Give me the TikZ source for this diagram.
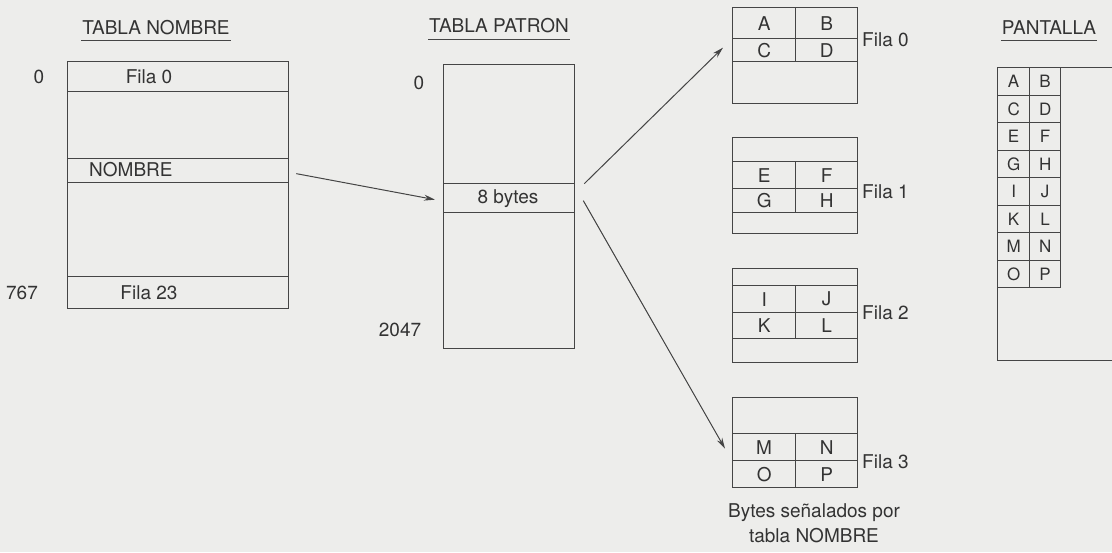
\documentclass[tikz,border=0pt]{standalone}
\usepackage{fontspec}
\setmainfont{TeX Gyre Heros}
\usetikzlibrary{arrows.meta}
\definecolor{bg}{HTML}{EDEDEB}
\definecolor{ink}{HTML}{454545}
\definecolor{txt}{HTML}{333333}
\begin{document}
\begin{tikzpicture}[x=1pt,y=-1pt,
  box/.style={draw=ink, line width=1.3pt, inner sep=0pt, anchor=north west},
  cell/.style={draw=ink, line width=1.3pt, inner sep=0pt, anchor=north west, text=txt, font=\fontsize{19}{20}\selectfont},
  scell/.style={draw=ink, line width=1.3pt, inner sep=0pt, anchor=north west, text=txt, font=\fontsize{17}{18}\selectfont, minimum width=32pt, minimum height=27.5pt},
  lbl/.style={text=txt, font=\fontsize{19}{22}\selectfont, inner sep=1pt},
  ttl/.style={text=txt, font=\fontsize{19}{22}\selectfont, inner sep=1pt},
  uline/.style={draw=ink, line width=0.9pt},
  arr/.style={draw=ink, line width=1pt, -{Stealth[length=11pt,width=6pt]}}]
\fill[bg] (0,0) rectangle (1112,552);
\useasboundingbox (0,0) rectangle (1112,552);

% ---- TABLA NOMBRE ----
\node[ttl] (t1) at (156,28) {TABLA NOMBRE};
\draw[uline] ([yshift=-4pt]t1.south west) -- ([yshift=-4pt]t1.south east);
\node[box, minimum width=221pt, minimum height=247pt] (nom) at (67,61) {};
\node[box, minimum width=221pt, minimum height=30pt] (nom0) at (67,61) {};
\node[lbl] at (149,77) {Fila 0};
\node[box, minimum width=221pt, minimum height=24pt] (nomrow) at (67,158) {};
\node[lbl, anchor=west] at (88,170) {NOMBRE};
\node[box, minimum width=221pt, minimum height=32pt] (nom23) at (67,276) {};
\node[lbl] at (149,293) {Fila 23};
\node[lbl] at (39,77) {0};
\node[lbl] at (22,293) {767};

% ---- TABLA PATRON ----
\node[ttl] (t2) at (499,26) {TABLA PATRON};
\draw[uline] ([yshift=-5pt]t2.south west) -- ([yshift=-5pt]t2.south east);
\node[box, minimum width=131pt, minimum height=284pt] (pat) at (443,64) {};
\node[box, minimum width=131pt, minimum height=29pt] (byte) at (443,183) {};
\node[lbl] at (508,199) {8 bytes};
\node[lbl] at (419,83) {0};
\node[lbl] at (400,330) {2047};

% ---- pattern boxes ----
\node[box, minimum width=125pt, minimum height=96pt] (p0) at (732,7) {};
\node[cell, minimum width=63pt, minimum height=31pt] (A) at (732,7) {A};
\node[cell, minimum width=62pt, minimum height=31pt] (B) at (795,7) {B};
\node[cell, minimum width=63pt, minimum height=23pt] (C) at (732,38) {C};
\node[cell, minimum width=62pt, minimum height=23pt] (D) at (795,38) {D};
\node[lbl, anchor=west] at (861,40) {Fila 0};

\node[box, minimum width=125pt, minimum height=96pt] (p1) at (732,137) {};
\node[cell, minimum width=63pt, minimum height=27pt] (E) at (732,161) {E};
\node[cell, minimum width=62pt, minimum height=27pt] (F) at (795,161) {F};
\node[cell, minimum width=63pt, minimum height=24pt] (G) at (732,188) {G};
\node[cell, minimum width=62pt, minimum height=24pt] (H) at (795,188) {H};
\node[lbl, anchor=west] at (861,192) {Fila 1};

\node[box, minimum width=125pt, minimum height=94pt] (p2) at (732,268) {};
\node[cell, minimum width=63pt, minimum height=27pt] (I) at (732,285) {I};
\node[cell, minimum width=62pt, minimum height=27pt] (J) at (795,285) {J};
\node[cell, minimum width=63pt, minimum height=26pt] (K) at (732,312) {K};
\node[cell, minimum width=62pt, minimum height=26pt] (L) at (795,312) {L};
\node[lbl, anchor=west] at (861,313) {Fila 2};

\node[box, minimum width=125pt, minimum height=90pt] (p3) at (732,397) {};
\node[cell, minimum width=63pt, minimum height=27pt] (M) at (732,433) {M};
\node[cell, minimum width=62pt, minimum height=27pt] (N) at (795,433) {N};
\node[cell, minimum width=63pt, minimum height=27pt] (O) at (732,460) {O};
\node[cell, minimum width=62pt, minimum height=27pt] (P) at (795,460) {P};
\node[lbl, anchor=west] at (861,462) {Fila 3};

\node[lbl, align=center, font=\fontsize{19}{25}\selectfont] (note) at (814,523) {Bytes señalados por\\tabla NOMBRE};

% ---- PANTALLA ----
\node[ttl] (t3) at (1049,28) {PANTALLA};
\draw[uline] ([yshift=-4pt]t3.south west) -- ([yshift=-4pt]t3.south east);
\node[box, minimum width=200pt, minimum height=293pt] (scr) at (997,67) {};
\foreach \r/\a/\b in {0/A/B,1/C/D,2/E/F,3/G/H,4/I/J,5/K/L,6/M/N,7/O/P}{
  \node[scell] (s\a) at (997,67+27.5*\r) {\a};
  \node[scell, minimum width=31pt] (s\b) at (1029,67+27.5*\r) {\b};
}

% ---- arrows ----
\draw[arr] ([xshift=7pt,yshift=-3pt]nomrow.east) -- ([xshift=-8pt,yshift=-1.5pt]byte.west);
\draw[arr] ([xshift=9pt,yshift=14.5pt]byte.east) -- ([xshift=-9pt,yshift=2.5pt]C.west);
\draw[arr] ([xshift=8pt,yshift=-2.5pt]byte.east) -- ([xshift=-7pt,yshift=-1.5pt]M.west);
\end{tikzpicture}
\end{document}
